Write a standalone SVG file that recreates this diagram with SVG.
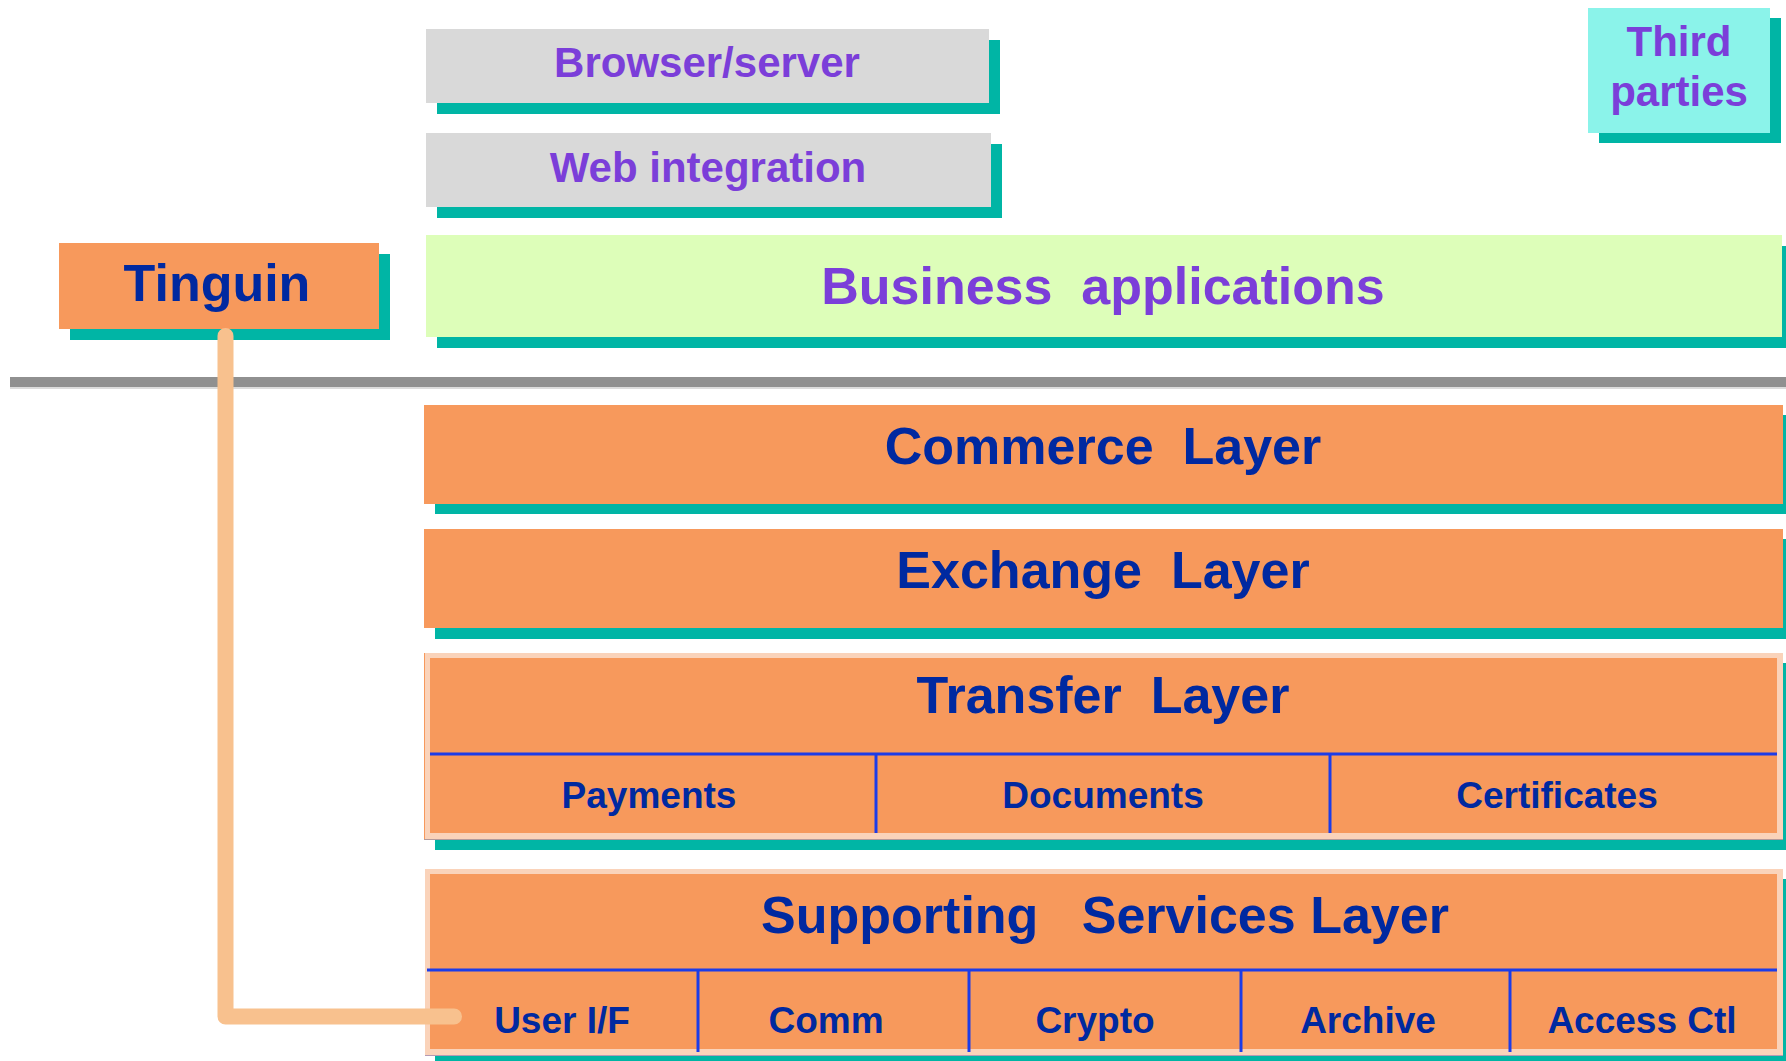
<svg xmlns="http://www.w3.org/2000/svg" width="1786" height="1061" viewBox="0 0 1786 1061">
  <style>
    .shadow { fill: #00B5A5; }
    .grey { fill: #D9D9D9; }
    .orange { fill: #F7995C; }
    .frame { fill: #FAD3BA; }
    .lbl { font-family: "Liberation Sans", Arial, sans-serif; font-weight: bold; text-anchor: middle; }
    .purple { fill: #7B3ED9; }
    .navy { fill: #0029A0; }
    .big { font-size: 52px; }
    .mid { font-size: 42px; }
    .small { font-size: 37px; }
    .rule { stroke: #1C3CE8; stroke-width: 3; fill: none; }
  </style>

  <rect width="1786" height="1061" fill="#FFFFFF"/>

  <!-- separator between application and infrastructure tiers -->
  <rect x="10" y="377" width="1776" height="10" fill="#909090"/>
  <rect x="10" y="387" width="1776" height="2" fill="#DCDCDC"/>

  <g id="browser-server">
    <rect class="shadow" x="437" y="40" width="563" height="74"/>
    <rect class="grey" x="426" y="29" width="563" height="74"/>
    <text class="lbl mid purple" x="707" y="77">Browser/server</text>
  </g>

  <g id="web-integration">
    <rect class="shadow" x="437" y="144" width="565" height="74"/>
    <rect class="grey" x="426" y="133" width="565" height="74"/>
    <text class="lbl mid purple" x="708" y="182">Web integration</text>
  </g>

  <g id="third-parties">
    <rect class="shadow" x="1599" y="18" width="182" height="125"/>
    <rect x="1588" y="8" width="182" height="125" fill="#8BF3EA"/>
    <text class="lbl mid purple" x="1679" y="56">Third</text>
    <text class="lbl mid purple" x="1679" y="106">parties</text>
  </g>

  <g id="tinguin">
    <rect class="shadow" x="70" y="254" width="320" height="86"/>
    <rect class="orange" x="59" y="243" width="320" height="86"/>
    <text class="lbl big navy" x="217" y="301">Tinguin</text>
  </g>

  <g id="business-applications">
    <rect class="shadow" x="437" y="246" width="1349" height="102"/>
    <rect x="426" y="235" width="1356" height="102" fill="#DDFEB9"/>
    <text class="lbl big purple" x="1103" y="304" xml:space="preserve">Business  applications</text>
  </g>

  <g id="commerce-layer">
    <rect class="shadow" x="435" y="415" width="1351" height="99"/>
    <rect class="orange" x="424" y="405" width="1359" height="99"/>
    <text class="lbl big navy" x="1103" y="464" xml:space="preserve">Commerce  Layer</text>
  </g>

  <g id="exchange-layer">
    <rect class="shadow" x="435" y="539" width="1351" height="100"/>
    <rect class="orange" x="424" y="529" width="1359" height="99"/>
    <text class="lbl big navy" x="1103" y="588" xml:space="preserve">Exchange  Layer</text>
  </g>

  <g id="transfer-layer">
    <rect class="shadow" x="435" y="663" width="1351" height="187"/>
    <rect class="frame" x="424" y="653" width="1359" height="186"/>
    <line x1="424" y1="839.5" x2="1783" y2="839.5" stroke="#B49A9A" stroke-width="1"/>
    <line x1="424.5" y1="653" x2="424.5" y2="839" stroke="#F7995C" stroke-width="1"/>
    <rect class="orange" x="430" y="658" width="1347" height="175"/>
    <text class="lbl big navy" x="1103" y="713" xml:space="preserve">Transfer  Layer</text>
    <line class="rule" x1="430" y1="754" x2="1777" y2="754"/>
    <line class="rule" x1="876" y1="754" x2="876" y2="833"/>
    <line class="rule" x1="1330" y1="754" x2="1330" y2="833"/>
    <text class="lbl small navy" x="649" y="808">Payments</text>
    <text class="lbl small navy" x="1103" y="808">Documents</text>
    <text class="lbl small navy" x="1557" y="808">Certificates</text>
  </g>

  <g id="supporting-services-layer">
    <rect class="shadow" x="435" y="879" width="1351" height="190"/>
    <rect class="frame" x="425" y="869" width="1358" height="186"/>
    <line x1="425" y1="1055.5" x2="1783" y2="1055.5" stroke="#B49AB4" stroke-width="1"/>
    <rect class="orange" x="430" y="874" width="1347" height="175"/>
    <text class="lbl big navy" x="1105" y="933" xml:space="preserve">Supporting   Services Layer</text>
    <line class="rule" x1="427" y1="970" x2="1777" y2="970"/>
    <line class="rule" x1="698" y1="970" x2="698" y2="1052"/>
    <line class="rule" x1="969" y1="970" x2="969" y2="1052"/>
    <line class="rule" x1="1241" y1="970" x2="1241" y2="1052"/>
    <line class="rule" x1="1510" y1="970" x2="1510" y2="1052"/>
    <text class="lbl small navy" x="562" y="1033">User I/F</text>
    <text class="lbl small navy" x="826" y="1033">Comm</text>
    <text class="lbl small navy" x="1095" y="1033">Crypto</text>
    <text class="lbl small navy" x="1368" y="1033">Archive</text>
    <text class="lbl small navy" x="1642" y="1033">Access Ctl</text>
  </g>

  <!-- Tinguin drives the User I/F service -->
  <g id="connectors">
    <path d="M 225.5 336 L 225.5 1016.5 L 454 1016.5" fill="none" stroke="#F8C18E" stroke-width="16" stroke-linecap="round" stroke-linejoin="round"/>
  </g>
</svg>
